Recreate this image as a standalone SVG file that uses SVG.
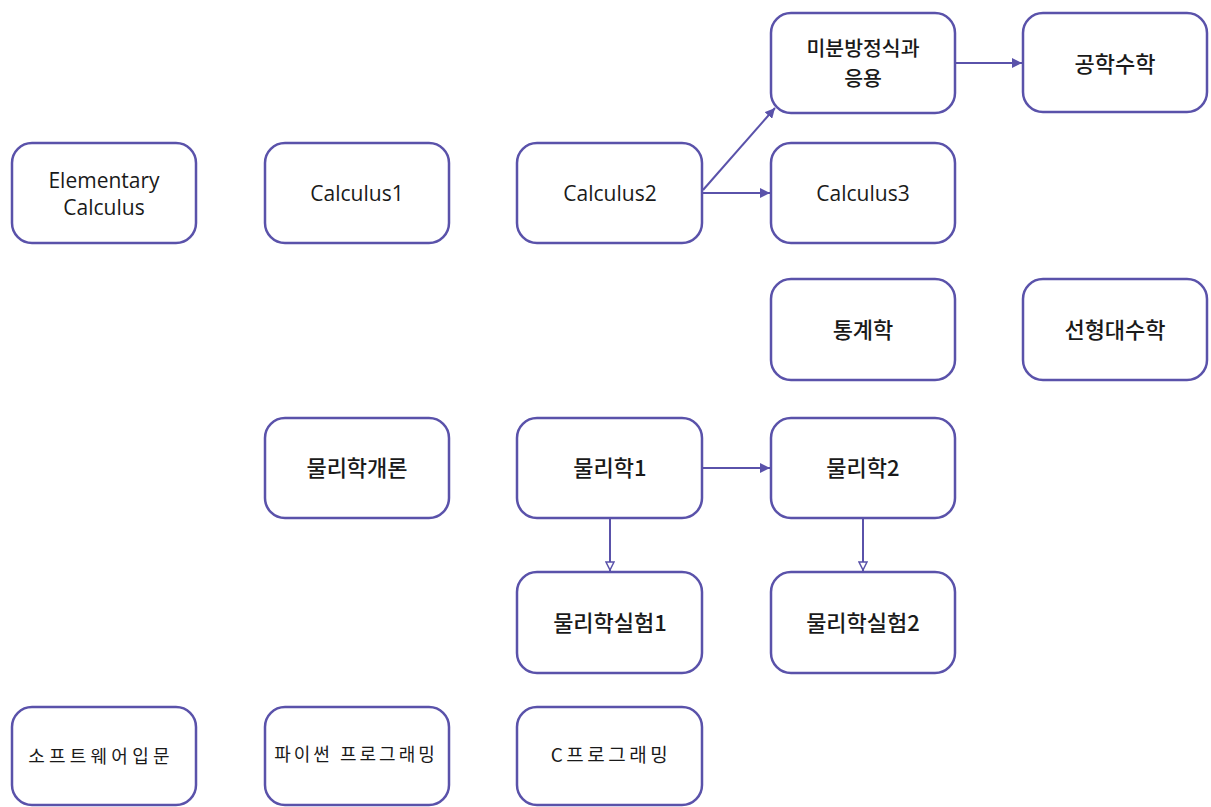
<svg xmlns="http://www.w3.org/2000/svg" width="1211" height="807" viewBox="0 0 1211 807">
<style>
.box{fill:#ffffff;stroke:#5a52aa;stroke-width:2.5}
.t{font-family:"Open Sans","Noto Sans CJK KR",sans-serif;font-size:21px;fill:#1a1a1a;text-anchor:middle;dominant-baseline:central}
.k{font-family:"Noto Sans CJK KR",sans-serif;font-size:22px;font-weight:500;fill:#1a1a1a;text-anchor:middle;dominant-baseline:central}
.g{font-family:"Noto Sans CJK KR",sans-serif;font-size:18px;fill:#1a1a1a;text-anchor:middle;dominant-baseline:central;letter-spacing:3px}
.c{fill:none;stroke:#5a52aa;stroke-width:2}
</style>
<defs>
<marker id="af" viewBox="0 0 10 10" refX="10" refY="5" markerWidth="10" markerHeight="10" markerUnits="userSpaceOnUse" orient="auto">
<path d="M0,0 L10,5 L0,10 z" fill="#5a52aa"/>
</marker>
<marker id="ao" viewBox="0 0 10 10" refX="10" refY="5" markerWidth="10" markerHeight="10" markerUnits="userSpaceOnUse" orient="auto">
<path d="M1,1 L9,5 L1,9 z" fill="#fff" stroke="#5a52aa" stroke-width="1.5"/>
</marker>
</defs>
<rect width="1211" height="807" fill="#ffffff"/>
<g id="connectors">
<path class="c" d="M703,190 L775,108" marker-end="url(#af)"/>
<path class="c" d="M703,193 L770,193" marker-end="url(#af)"/>
<path class="c" d="M956,63 L1022,63" marker-end="url(#af)"/>
<path class="c" d="M703,468 L770,468" marker-end="url(#af)"/>
<path class="c" d="M610,519 L610,571" marker-end="url(#ao)"/>
<path class="c" d="M863,519 L863,571" marker-end="url(#ao)"/>
</g>
<g id="n-diffeq"><rect class="box" x="771" y="13" width="184" height="100" rx="20"/><text class="k" x="863" y="47" style="font-size:20.5px">미분방정식과</text><text class="k" x="863" y="77" style="font-size:20.5px">응용</text></g>
<g id="n-engmath"><rect class="box" x="1023" y="13" width="184" height="99" rx="20"/><text class="k" x="1115" y="62">공학수학</text></g>
<g id="n-elem"><rect class="box" x="12" y="143" width="184" height="100" rx="20"/><text class="t" x="104" y="180">Elementary</text><text class="t" x="104" y="207">Calculus</text></g>
<g id="n-calc1"><rect class="box" x="265" y="143" width="184" height="100" rx="20"/><text class="t" x="357" y="193">Calculus1</text></g>
<g id="n-calc2"><rect class="box" x="517" y="143" width="185" height="100" rx="20"/><text class="t" x="610" y="193">Calculus2</text></g>
<g id="n-calc3"><rect class="box" x="771" y="143" width="184" height="100" rx="20"/><text class="t" x="863" y="193">Calculus3</text></g>
<g id="n-stat"><rect class="box" x="771" y="279" width="184" height="101" rx="20"/><text class="k" x="863" y="328">통계학</text></g>
<g id="n-linalg"><rect class="box" x="1023" y="279" width="184" height="101" rx="20"/><text class="k" x="1115" y="328">선형대수학</text></g>
<g id="n-physintro"><rect class="box" x="265" y="418" width="184" height="100" rx="20"/><text class="k" x="357" y="466">물리학개론</text></g>
<g id="n-phys1"><rect class="box" x="517" y="418" width="185" height="100" rx="20"/><text class="k" x="610" y="466">물리학1</text></g>
<g id="n-phys2"><rect class="box" x="771" y="418" width="184" height="100" rx="20"/><text class="k" x="863" y="466">물리학2</text></g>
<g id="n-physlab1"><rect class="box" x="517" y="572" width="185" height="101" rx="20"/><text class="k" x="610" y="621">물리학실험1</text></g>
<g id="n-physlab2"><rect class="box" x="771" y="572" width="184" height="101" rx="20"/><text class="k" x="863" y="621">물리학실험2</text></g>
<g id="n-sw"><rect class="box" x="12" y="707" width="184" height="98" rx="20"/><text class="g" x="101" y="755" style="letter-spacing:4.2px">소프트웨어입문</text></g>
<g id="n-python"><rect class="box" x="265" y="707" width="184" height="98" rx="20"/><text class="g" x="356" y="753">파이썬 프로그래밍</text></g>
<g id="n-c"><rect class="box" x="517" y="707" width="185" height="98" rx="20"/><text class="g" x="611" y="753" style="font-size:19px;letter-spacing:3.5px">C프로그래밍</text></g>
</svg>
